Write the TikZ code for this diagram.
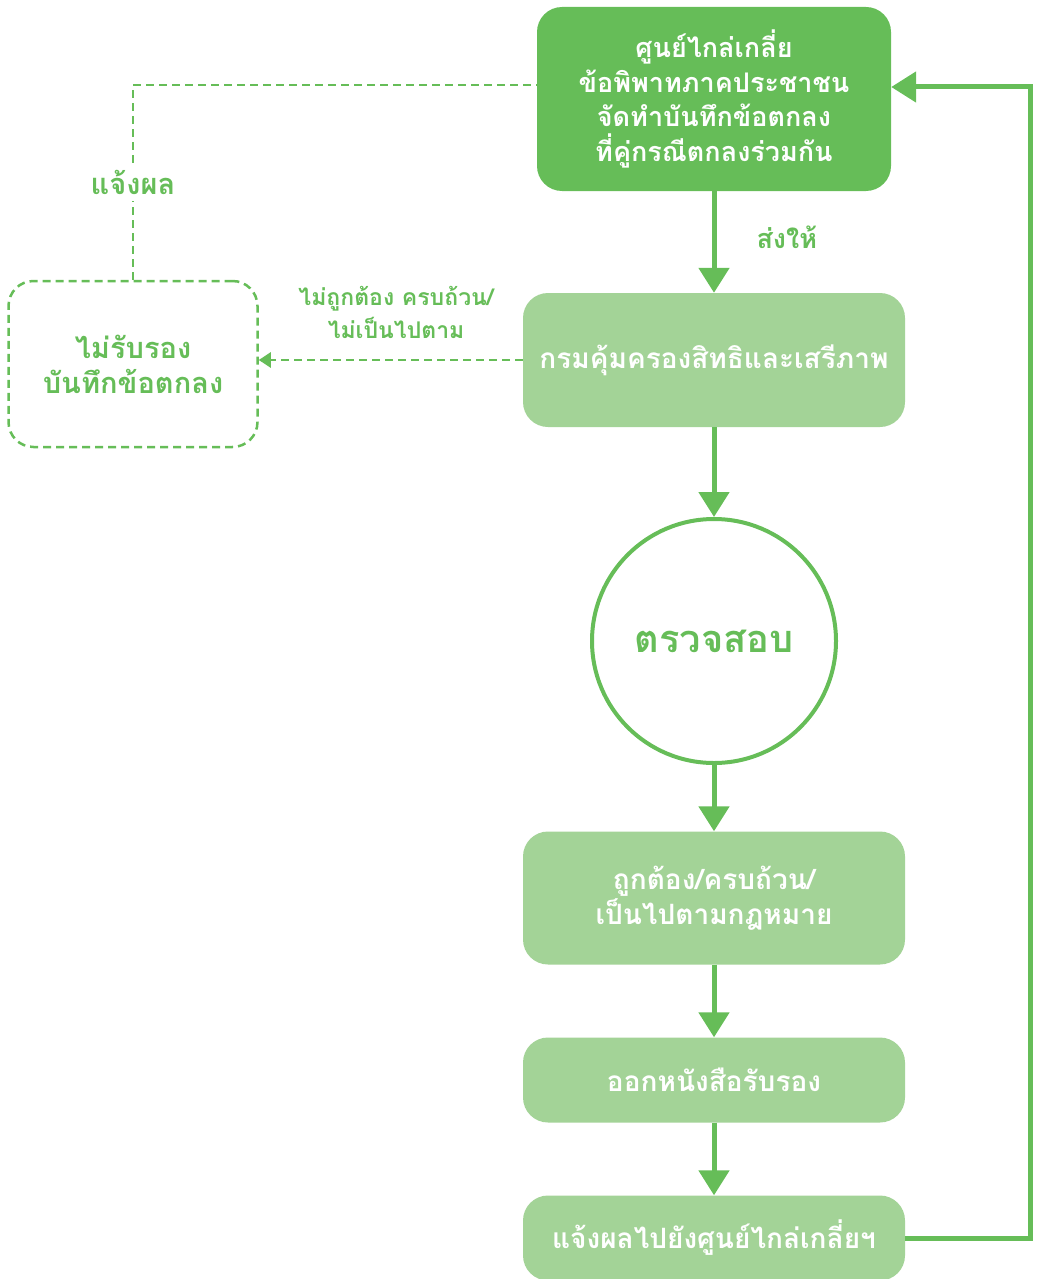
\documentclass[tikz,border=0pt]{standalone}
\usepackage{fontspec}
\newfontfamily\thaifont[Script=Thai]{Loma}
\usetikzlibrary{arrows.meta, positioning, shapes}
\definecolor{darkgreen}{RGB}{102,189,88}
\definecolor{lightgreen}{RGB}{163,211,151}

\begin{document}
\begin{tikzpicture}[x=1pt, y=-1pt,
        basic/.style    = {rectangle, rounded corners=25pt, align=center, inner sep=0pt, text=white,
                           font=\thaifont\bfseries\fontsize{28}{35}\selectfont},
        centre/.style   = {basic, fill=darkgreen, minimum width=354pt, minimum height=184pt,
                           font=\thaifont\bfseries\fontsize{27}{34.5}\selectfont},
        office/.style   = {basic, fill=lightgreen, minimum width=382pt},
        reject/.style   = {basic, draw=darkgreen, dash pattern=on 8pt off 5pt, line width=2.5pt,
                           text=darkgreen, minimum width=249pt, minimum height=166pt,
                           font=\thaifont\bfseries\fontsize{29}{35}\selectfont},
        check/.style    = {circle, draw=darkgreen, line width=4pt, fill=white, minimum size=244pt,
                           text=darkgreen, font=\thaifont\bfseries\fontsize{38}{44}\selectfont},
        note/.style     = {text=darkgreen, align=center, inner sep=2pt,
                           font=\thaifont\bfseries\fontsize{27}{33}\selectfont},
        flow/.style     = {draw=darkgreen, line width=5pt, -{Triangle[width=30pt,length=25pt]}},
        dashflow/.style = {draw=darkgreen, line width=2.5pt, dash pattern=on 8pt off 5pt}]

    \useasboundingbox (0,0) rectangle (1036,1279);

    % main column
    \node[centre] (centre) at (714,99) {ศูนย์ไกล่เกลี่ย\\ข้อพิพาทภาคประชาชน\\จัดทำบันทึกข้อตกลง\\ที่คู่กรณีตกลงร่วมกัน};
    \node[office, minimum height=134pt] (office) at (714,360) {กรมคุ้มครองสิทธิและเสรีภาพ};
    \node[check] (check) at (714,641) {ตรวจสอบ};
    \node[office, minimum height=133pt] (valid) at (714,898) {ถูกต้อง/ครบถ้วน/\\เป็นไปตามกฎหมาย};
    \node[office, minimum height=85pt] (certify) at (714,1080) {ออกหนังสือรับรอง};
    \node[office, minimum height=85pt] (notify) at (714,1238) {แจ้งผลไปยังศูนย์ไกล่เกลี่ยฯ};

    % rejected branch
    \node[reject] (reject) at (133,364) {ไม่รับรอง\\บันทึกข้อตกลง};

    % arrows down the column
    \draw[flow] (centre) -- node[note, right=38pt, pos=0.45] (send) {ส่งให้} (office);
    \draw[flow] (office) -- (check);
    \draw[flow] (check) -- (valid);
    \draw[flow] (valid) -- (certify);
    \draw[flow] (certify) -- (notify);

    % loop back to the centre
    \coordinate (loop) at (1030,87);
    \draw[flow] (notify.east) -| (loop) -- ([yshift=12pt]centre.east);

    % dashed lines for the rejected case
    \draw[dashflow, -{Triangle[width=15pt,length=12pt]}] (office.west) --
        node[note, above=18pt, pos=0.48, font=\thaifont\bfseries\fontsize{23}{33}\selectfont] (wrong)
        {ไม่ถูกต้อง ครบถ้วน/\\ไม่เป็นไปตาม} (reject.east |- office.west);
    \draw[dashflow] (reject.north) |- node[note, pos=0.25, fill=white, inner sep=6pt,
        font=\thaifont\bfseries\fontsize{29}{33}\selectfont] (inform) {แจ้งผล} ([yshift=14pt]centre.west);

\end{tikzpicture}
\end{document}
